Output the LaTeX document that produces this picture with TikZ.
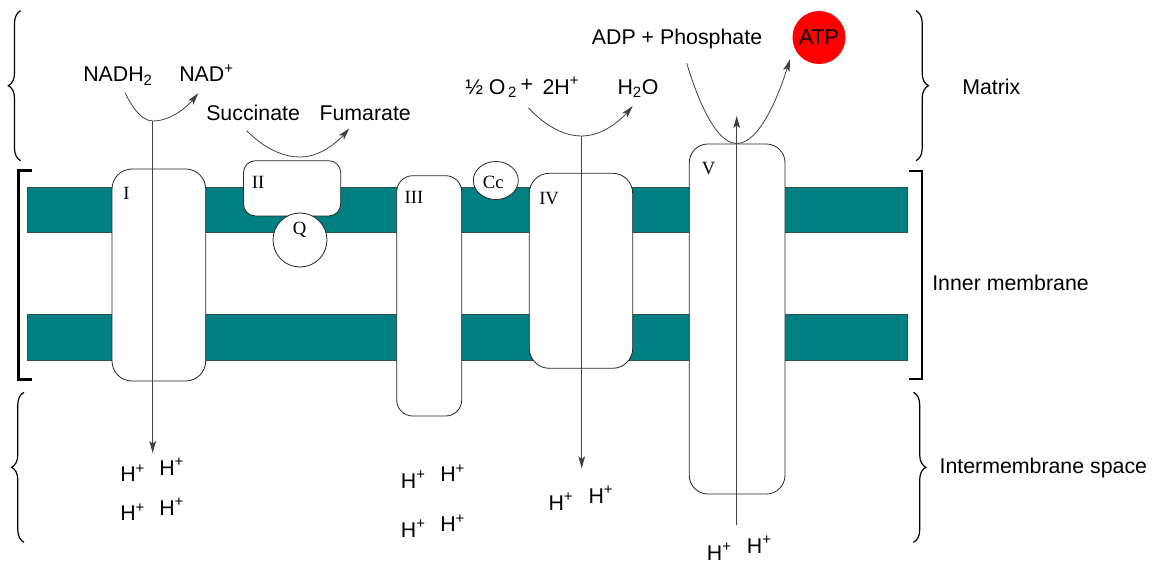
\documentclass[tikz,border=0pt]{standalone}
\usepackage{fontspec}
\setmainfont{Liberation Serif}
\setsansfont{Liberation Sans}
\usepackage{tikz}
\usetikzlibrary{decorations.pathreplacing,arrows.meta,calc}

\definecolor{membranecol}{HTML}{008080}
\definecolor{bandedge}{HTML}{2F4F4F}

\tikzset{
  band/.style={draw=bandedge,fill=membranecol,line width=0.6pt},
  complexbox/.style={draw=black!85,fill=white,line width=0.6pt},
  roman/.style={font=\rmfamily\fontsize{14}{16}\selectfont,anchor=base west,inner sep=0pt},
  chem/.style={font=\sffamily\fontsize{16}{19}\selectfont,anchor=base west,inner sep=0pt},
  flow/.style={draw=black!75,line width=0.6pt,-{Stealth[length=9pt,width=5pt,inset=2pt]}},
  region/.style={decorate,decoration={brace,amplitude=9.3pt},line width=0.9pt},
  bracket/.style={line width=1.6pt}
}

\begin{document}
\begin{tikzpicture}[x=0.75pt,y=-0.75pt]
\useasboundingbox (0,0) rectangle (1154,563);

% Membrane bands
\draw[band] (27,187) rectangle (907,232);
\draw[band] (27,314) rectangle (907,360);

% Complexes
\draw[complexbox,rounded corners=15pt] (112,169) rectangle (205.7,381);
\draw[complexbox,rounded corners=9pt] (243.5,160.7) rectangle (340.7,216);
\draw[complexbox,rounded corners=12pt] (396.7,175.7) rectangle (461.7,416);
\draw[complexbox,rounded corners=15pt] (529.3,173.3) rectangle (632.7,368.3);
\draw[complexbox,rounded corners=14pt] (689.3,144) rectangle (785,494);

% Ubiquinone and cytochrome c
\draw[complexbox] (300,240) circle[radius=27];
\draw[complexbox] (495.8,180.5) ellipse[x radius=22.5,y radius=19];

% Labels of the complexes
\node[roman] (lI) at (123,199.3) {I};
\node[roman] (lII) at (251.7,188.3) {II};
\node[roman] (lIII) at (404.3,203.3) {III};
\node[roman] (lIV) at (539,205) {IV};
\node[roman] (lV) at (701.7,175) {V};
\node[roman] (lQ) at (292.5,234.3) {Q};
\node[roman] (lCc) at (482.7,188.3) {Cc};

% Reactants and products
\node[chem] (nadh) at (83,82) {NADH\textsubscript{2}};
\node[chem] (nad) at (179,82) {NAD\textsuperscript{+}};
\node[chem] (succ) at (206,120.7) {Succinate};
\node[chem] (fum) at (319.3,120.7) {Fumarate};
\node[chem] (oxy) at (465,94.3) {½ O\textsubscript{\,2}\,\raisebox{2pt}{+}\, 2H\textsuperscript{+}};
\node[chem] (water) at (617.3,94.3) {H\textsubscript{2}O};
\node[chem] (adp) at (591.7,45) {ADP + Phosphate};
\node[circle,fill=red,minimum size=39.75pt,inner sep=0pt,
      font=\sffamily\fontsize{16}{19}\selectfont] (atp) at (819,37.5) {ATP};

% Curved arrows of the reactions
\coordinate (bendI) at (152.7,121);
\coordinate (bendII) at (300,157);
\coordinate (bendIV) at (581.7,136);
\coordinate (bendV) at (736.7,143.5);
\draw[flow] (125,92.7) parabola bend (bendI) (198.3,93.3);
\draw[flow] (246.7,130.7) parabola bend (bendII) (349.3,128.3);
\draw[flow] (528.3,107.7) parabola bend (bendIV) (632.7,106);
\draw[flow] (686.7,63.3) parabola bend (bendV) (790,59.3);

% Proton flow
\coordinate (pI) at (152.7,453);
\coordinate (pIV) at (581.7,468.3);
\coordinate (pVin) at (736.7,525);
\coordinate (pVout) at (736.7,116);
\draw[flow] (bendI) -- (pI);
\draw[flow] (bendIV) -- (pIV);
\draw[flow] (pVin) -- (pVout);

% Protons
\foreach \x/\y [count=\i] in {120/481.7,159/475,120/520.7,159/515,
    400.7/488.3,440/481.7,400.7/537,440/531.7,
    548.3/510,588.3/503,706.7/560,746.7/553}
  \node[chem] (h\i) at (\x,\y) {H\textsuperscript{+}};

% Braces and brackets
\draw[region] (20.7,160.7) -- (20.7,10.7);
\draw[region] (24,542.3) -- (24,392.3);
\draw[region] (916,10.7) -- (916,160.7);
\draw[region] (913.5,392.3) -- (913.5,542.3);
\draw[bracket] (31.7,170.5) -- (18.5,170.5) -- (18.5,379.5) -- (31.7,379.5);
\draw[bracket] (909,170.7) -- (922,170.7) -- (922,379.3) -- (909,379.3);

% Compartments
\node[chem] (matrix) at (962,94.5) {Matrix};
\node[chem] (inner) at (932,291) {Inner membrane};
\node[chem] (inter) at (939.3,473) {Intermembrane space};

\end{tikzpicture}
\end{document}
